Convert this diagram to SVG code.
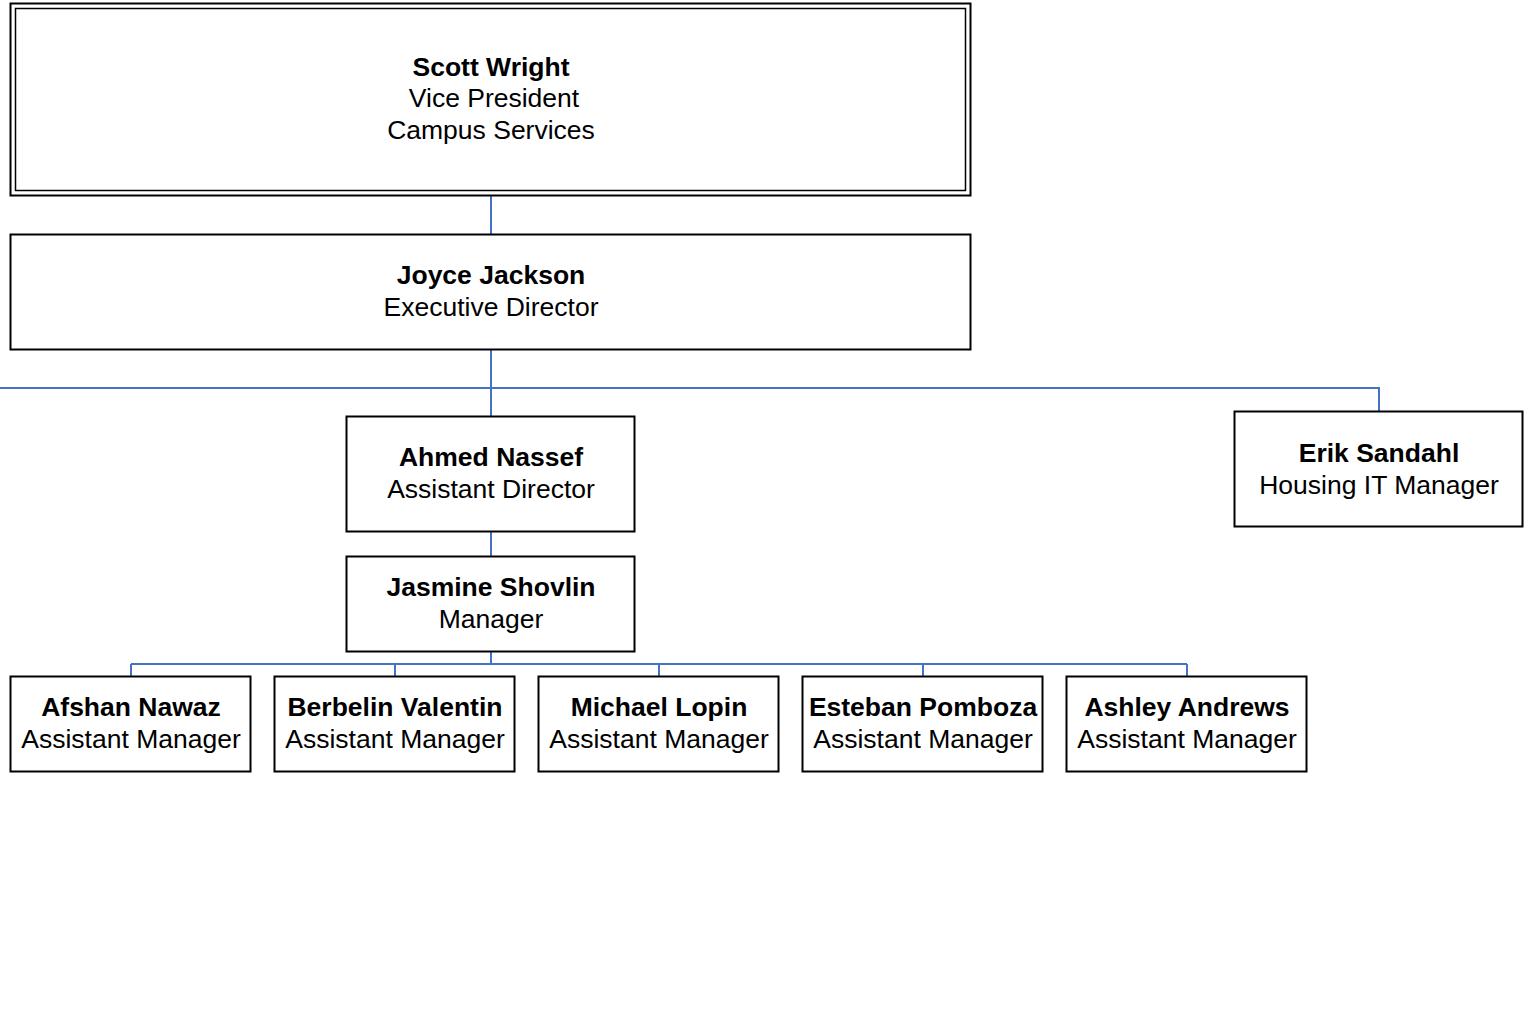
<svg xmlns="http://www.w3.org/2000/svg" width="1527" height="1011" viewBox="0 0 1527 1011">
<style>
.box{fill:#fff;stroke:#000;stroke-width:2}
.thin{fill:none;stroke:#000;stroke-width:1.5}
.line{fill:none;stroke:#4472C4;stroke-width:2}
text{font-family:"Liberation Sans",Arial,sans-serif;font-size:26.5px;fill:#000;text-anchor:middle}
.b{font-weight:bold}
</style>
<g id="connectors">
<line class="line" x1="491" y1="196" x2="491" y2="234"/>
<line class="line" x1="491" y1="349" x2="491" y2="416"/>
<polyline class="line" points="0,388 1379,388 1379,411"/>
<line class="line" x1="491" y1="532" x2="491" y2="556"/>
<line class="line" x1="491" y1="652" x2="491" y2="664"/>
<line class="line" x1="131" y1="664" x2="1187" y2="664"/>
<line class="line" x1="131" y1="664" x2="131" y2="676"/>
<line class="line" x1="395" y1="664" x2="395" y2="676"/>
<line class="line" x1="659" y1="664" x2="659" y2="676"/>
<line class="line" x1="923" y1="664" x2="923" y2="676"/>
<line class="line" x1="1187" y1="664" x2="1187" y2="676"/>
</g>
<g id="scott">
<rect class="box" x="10.5" y="3.5" width="960" height="192"/>
<rect class="thin" x="15.5" y="8.5" width="950" height="182"/>
<text x="491" y="76" class="b">Scott Wright</text>
<text x="494" y="107">Vice President</text>
<text x="491" y="139">Campus Services</text>
</g>
<g id="joyce">
<rect class="box" x="10.5" y="234.5" width="960" height="115"/>
<text x="491" y="284" class="b">Joyce Jackson</text>
<text x="491" y="316">Executive Director</text>
</g>
<g id="ahmed">
<rect class="box" x="346.5" y="416.5" width="288" height="115"/>
<text x="491" y="466" class="b">Ahmed Nassef</text>
<text x="491" y="498">Assistant Director</text>
</g>
<g id="erik">
<rect class="box" x="1234.5" y="411.5" width="288" height="115"/>
<text x="1379" y="462" class="b">Erik Sandahl</text>
<text x="1379" y="494">Housing IT Manager</text>
</g>
<g id="jasmine">
<rect class="box" x="346.5" y="556.5" width="288" height="95"/>
<text x="491" y="596" class="b">Jasmine Shovlin</text>
<text x="491" y="628">Manager</text>
</g>
<g id="afshan">
<rect class="box" x="10.5" y="676.5" width="240" height="95"/>
<text x="131" y="716" class="b">Afshan Nawaz</text>
<text x="131" y="748">Assistant Manager</text>
</g>
<g id="berbelin">
<rect class="box" x="274.5" y="676.5" width="240" height="95"/>
<text x="395" y="716" class="b">Berbelin Valentin</text>
<text x="395" y="748">Assistant Manager</text>
</g>
<g id="michael">
<rect class="box" x="538.5" y="676.5" width="240" height="95"/>
<text x="659" y="716" class="b">Michael Lopin</text>
<text x="659" y="748">Assistant Manager</text>
</g>
<g id="esteban">
<rect class="box" x="802.5" y="676.5" width="240" height="95"/>
<text x="923" y="716" class="b">Esteban Pomboza</text>
<text x="923" y="748">Assistant Manager</text>
</g>
<g id="ashley">
<rect class="box" x="1066.5" y="676.5" width="240" height="95"/>
<text x="1187" y="716" class="b">Ashley Andrews</text>
<text x="1187" y="748">Assistant Manager</text>
</g>
</svg>
